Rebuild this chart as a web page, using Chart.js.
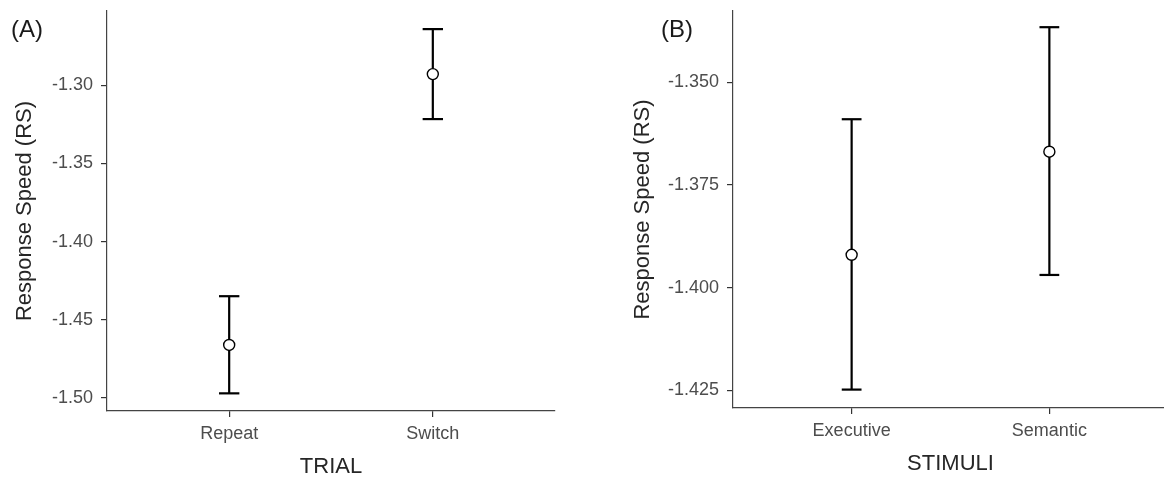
<!DOCTYPE html>
<html>
<head>
<meta charset="utf-8">
<script src="https://cdn.jsdelivr.net/npm/chart.js@4/dist/chart.umd.min.js"></script>
<style>
  html, body { margin: 0; padding: 0; background: #fff; overflow: hidden; }
  body { width: 1164px; height: 479px; position: relative; }
  .panel { position: absolute; top: 0; height: 479px; }
  .tag { position: absolute; font-family: "Liberation Sans", Arial, sans-serif; font-size: 24px; line-height: 24px; color: #1a1a1a; }
</style>
</head>
<body>
<div class="panel" style="left:0;width:590px"><canvas id="trialChart"></canvas></div>
<div class="panel" style="left:620px;width:560px"><canvas id="stimChart"></canvas></div>
<div class="tag" style="left:11px;top:17px">(A)</div>
<div class="tag" style="left:661px;top:17px">(B)</div>
<script>
// --- Panel A: TRIAL ---
const trialCats = ['Repeat', 'Switch'];
const trialMean = [-1.4662, -1.2928];
const trialLower = [-1.4972, -1.3216];
const trialUpper = [-1.4350, -1.2640];
const trialTicks = [-1.50, -1.45, -1.40, -1.35, -1.30];

// --- Panel B: STIMULI ---
const stimCats = ['Executive', 'Semantic'];
const stimMean = [-1.3920, -1.3669];
const stimLower = [-1.4248, -1.3969];
const stimUpper = [-1.3590, -1.3366];
const stimTicks = [-1.425, -1.400, -1.375, -1.350];

const FONT = '"Liberation Sans", Arial, sans-serif';
const CAP = 0.05; // half width of the error bar caps, in category units

function buildDatasets(mean, lower, upper) {
    const sets = [{
        data: mean.map((m, i) => ({ x: i + 1, y: m })),
        pointRadius: 5.5,
        pointBackgroundColor: '#fff',
        pointBorderColor: '#000',
        pointBorderWidth: 1.4,
        showLine: false
    }];
    mean.forEach((m, i) => {
        const x = i + 1;
        const line = { showLine: true, pointRadius: 0, borderColor: '#000', borderWidth: 2.2 };
        sets.push({ ...line, data: [{ x, y: lower[i] }, { x, y: upper[i] }] });
        sets.push({ ...line, data: [{ x: x - CAP, y: upper[i] }, { x: x + CAP, y: upper[i] }] });
        sets.push({ ...line, data: [{ x: x - CAP, y: lower[i] }, { x: x + CAP, y: lower[i] }] });
    });
    return sets;
}

// no extra room for half tick labels, the plot box is fixed
function noPad(s) {
    s.paddingTop = 0;
    s.paddingBottom = 0;
    s.paddingLeft = 0;
    s.paddingRight = 0;
}

function makePanel(id, cfg) {
    const el = document.getElementById(id);
    el.width = cfg.width;
    el.height = 479;
    return new Chart(el, {
        type: 'scatter',
        data: { datasets: buildDatasets(cfg.mean, cfg.lower, cfg.upper) },
        options: {
            responsive: false,
            animation: false,
            layout: { padding: { top: 11, right: cfg.padRight, left: 0, bottom: 0 } },
            plugins: { legend: { display: false }, tooltip: { enabled: false } },
            scales: {
                x: {
                    type: 'linear',
                    min: 0.4,
                    max: 2.6,
                    afterBuildTicks: s => { s.ticks = cfg.cats.map((c, i) => ({ value: i + 1 })); },
                    afterFit: s => { s.height = cfg.xHeight; noPad(s); },
                    ticks: {
                        callback: v => cfg.cats[v - 1],
                        color: '#4d4d4d',
                        font: { family: FONT, size: 18 },
                        padding: 6,
                        maxRotation: 0
                    },
                    grid: { drawOnChartArea: false, drawTicks: true, tickLength: 6, color: '#333', lineWidth: 1.2 },
                    border: { display: true, color: '#444', width: 1.2 },
                    title: {
                        display: true,
                        text: cfg.xTitle,
                        color: '#262626',
                        font: { family: FONT, size: 22, lineHeight: 1 },
                        padding: { top: 0, bottom: cfg.xTitlePad }
                    }
                },
                y: {
                    min: cfg.yMin,
                    max: cfg.yMax,
                    afterBuildTicks: s => { s.ticks = cfg.ticks.map(v => ({ value: v })); },
                    afterFit: s => { s.width = cfg.yWidth; noPad(s); },
                    ticks: {
                        callback: v => v.toFixed(cfg.decimals),
                        color: '#4d4d4d',
                        font: { family: FONT, size: 18 },
                        padding: 8
                    },
                    grid: { drawOnChartArea: false, drawTicks: true, tickLength: 6, color: '#333', lineWidth: 1.2 },
                    border: { display: true, color: '#444', width: 1.2 },
                    title: {
                        display: true,
                        text: 'Response Speed (RS)',
                        color: '#262626',
                        font: { family: FONT, size: 22, lineHeight: 1 },
                        padding: { top: cfg.yTitlePad, bottom: 0 }
                    }
                }
            }
        }
    });
}

makePanel('trialChart', {
    width: 590, padRight: 35, xHeight: 68, yWidth: 107,
    cats: trialCats, mean: trialMean, lower: trialLower, upper: trialUpper,
    ticks: trialTicks, decimals: 2, yMin: -1.5085, yMax: -1.2524,
    xTitle: 'TRIAL', xTitlePad: 1, yTitlePad: 14
});

makePanel('stimChart', {
    width: 560, padRight: 12, xHeight: 71, yWidth: 113,
    cats: stimCats, mean: stimMean, lower: stimLower, upper: stimUpper,
    ticks: stimTicks, decimals: 3, yMin: -1.42928, yMax: -1.33266,
    xTitle: 'STIMULI', xTitlePad: 4, yTitlePad: 12
});
</script>
</body>
</html>
